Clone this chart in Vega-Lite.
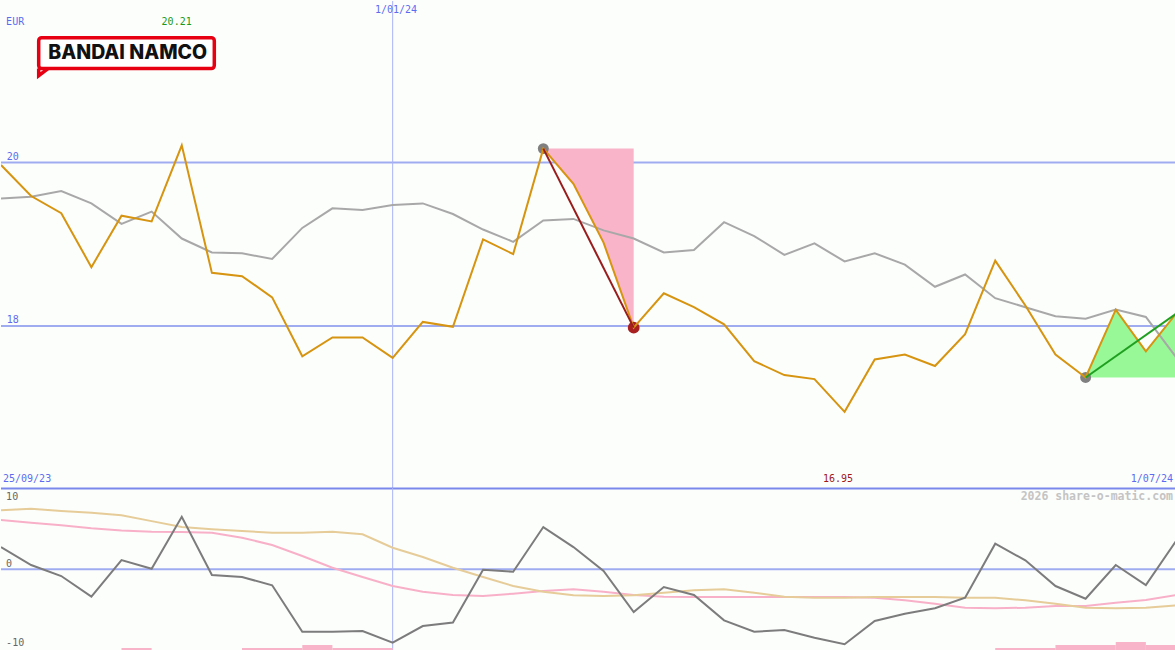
{
  "$schema": "https://vega.github.io/schema/vega-lite/v6.json",
  "background": "#fcfefc",
  "padding": 0,
  "spacing": 0,
  "bounds": "flush",
  "config": {"view": {"stroke": null}, "axis": {"disable": true}, "concat": {"spacing": 0}},
  "datasets": {
    "price": [
      {"idx": 0, "close": 19.97, "ma": 19.56}, {"idx": 1, "close": 19.59, "ma": 19.58},
      {"idx": 2, "close": 19.38, "ma": 19.65}, {"idx": 3, "close": 18.72, "ma": 19.50},
      {"idx": 4, "close": 19.35, "ma": 19.25}, {"idx": 5, "close": 19.28, "ma": 19.40},
      {"idx": 6, "close": 20.21, "ma": 19.07}, {"idx": 7, "close": 18.65, "ma": 18.90},
      {"idx": 8, "close": 18.61, "ma": 18.89}, {"idx": 9, "close": 18.35, "ma": 18.82},
      {"idx": 10, "close": 17.63, "ma": 19.20}, {"idx": 11, "close": 17.86, "ma": 19.44},
      {"idx": 12, "close": 17.86, "ma": 19.42}, {"idx": 13, "close": 17.61, "ma": 19.48},
      {"idx": 14, "close": 18.05, "ma": 19.50}, {"idx": 15, "close": 17.99, "ma": 19.37},
      {"idx": 16, "close": 19.06, "ma": 19.18}, {"idx": 17, "close": 18.88, "ma": 19.03},
      {"idx": 18, "close": 20.17, "ma": 19.29}, {"idx": 19, "close": 19.74, "ma": 19.31},
      {"idx": 20, "close": 19.02, "ma": 19.17}, {"idx": 21, "close": 17.98, "ma": 19.07},
      {"idx": 22, "close": 18.40, "ma": 18.90}, {"idx": 23, "close": 18.23, "ma": 18.93},
      {"idx": 24, "close": 18.02, "ma": 19.27}, {"idx": 25, "close": 17.57, "ma": 19.10},
      {"idx": 26, "close": 17.40, "ma": 18.87}, {"idx": 27, "close": 17.35, "ma": 19.01},
      {"idx": 28, "close": 16.95, "ma": 18.79}, {"idx": 29, "close": 17.59, "ma": 18.89},
      {"idx": 30, "close": 17.65, "ma": 18.75}, {"idx": 31, "close": 17.51, "ma": 18.48},
      {"idx": 32, "close": 17.90, "ma": 18.63}, {"idx": 33, "close": 18.80, "ma": 18.34},
      {"idx": 34, "close": 18.25, "ma": 18.23}, {"idx": 35, "close": 17.65, "ma": 18.12},
      {"idx": 36, "close": 17.37, "ma": 18.09}, {"idx": 37, "close": 18.20, "ma": 18.20},
      {"idx": 38, "close": 17.69, "ma": 18.11}, {"idx": 39, "close": 18.15, "ma": 17.62}
    ],
    "zones": [
      {"zone": "down", "idx": 18, "close": 20.17, "base": 20.17},
      {"zone": "down", "idx": 19, "close": 19.74, "base": 20.17},
      {"zone": "down", "idx": 20, "close": 19.02, "base": 20.17},
      {"zone": "down", "idx": 21, "close": 17.98, "base": 20.17},
      {"zone": "up", "idx": 36, "close": 17.37, "base": 17.37},
      {"zone": "up", "idx": 37, "close": 18.20, "base": 17.37},
      {"zone": "up", "idx": 38, "close": 17.69, "base": 17.37},
      {"zone": "up", "idx": 39, "close": 18.15, "base": 17.37}
    ],
    "trends": [
      {"seg": "down", "idx": 18, "v": 20.17}, {"seg": "down", "idx": 21, "v": 17.98},
      {"seg": "up", "idx": 36, "v": 17.37}, {"seg": "up", "idx": 39, "v": 18.15}
    ],
    "dots": [
      {"idx": 18, "v": 20.17, "c": "#808080", "s": 120},
      {"idx": 21, "v": 17.98, "c": "#a82020", "s": 140},
      {"idx": 36, "v": 17.37, "c": "#808080", "s": 120}
    ],
    "toplabels": [
      {"t": "EUR", "idx": 0.17, "v": 21.719, "c": "#5c6cf0", "a": "left"},
      {"t": "20.21", "idx": 5.83, "v": 21.719, "c": "#1a9a1a", "a": "center"},
      {"t": "1/01/24", "idx": 13.11, "v": 21.866, "c": "#5c6cf0", "a": "center"},
      {"t": "20", "idx": 0.19, "v": 20.068, "c": "#5c6cf0", "a": "left"},
      {"t": "18", "idx": 0.19, "v": 18.074, "c": "#5c6cf0", "a": "left"},
      {"t": "25/09/23", "idx": 0.066, "v": 16.129, "c": "#5c6cf0", "a": "left"},
      {"t": "16.95", "idx": 27.78, "v": 16.129, "c": "#a01818", "a": "center"},
      {"t": "1/07/24", "idx": 38.9, "v": 16.129, "c": "#5c6cf0", "a": "right"}
    ],
    "logo": [
      {"x1": 1.251, "x2": 7.080, "y1": 21.527, "y2": 21.149}
    ],
    "logotail": [
      {"o": 0, "idx": 1.251, "v": 21.149},
      {"o": 1, "idx": 1.251, "v": 21.062},
      {"o": 2, "idx": 1.56, "v": 21.149}
    ],
    "osc": [
      {"idx": 0, "osc": 3.05, "tan": 8.08, "pink": 6.75},
      {"idx": 1, "osc": 0.59, "tan": 8.30, "pink": 6.38},
      {"idx": 2, "osc": -0.92, "tan": 7.99, "pink": 6.03},
      {"idx": 3, "osc": -3.75, "tan": 7.75, "pink": 5.62},
      {"idx": 4, "osc": 1.27, "tan": 7.40, "pink": 5.33},
      {"idx": 5, "osc": 0.08, "tan": 6.60, "pink": 5.15},
      {"idx": 6, "osc": 7.20, "tan": 5.80, "pink": 5.11},
      {"idx": 7, "osc": -0.78, "tan": 5.48, "pink": 5.01},
      {"idx": 8, "osc": -1.05, "tan": 5.25, "pink": 4.33},
      {"idx": 9, "osc": -2.19, "tan": 5.01, "pink": 3.33},
      {"idx": 10, "osc": -8.55, "tan": 5.01, "pink": 1.82},
      {"idx": 11, "osc": -8.55, "tan": 5.15, "pink": 0.22},
      {"idx": 12, "osc": -8.45, "tan": 4.79, "pink": -1.05},
      {"idx": 13, "osc": -10.05, "tan": 2.95, "pink": -2.29},
      {"idx": 14, "osc": -7.77, "tan": 1.68, "pink": -3.07},
      {"idx": 15, "osc": -7.30, "tan": 0.22, "pink": -3.52},
      {"idx": 16, "osc": -0.05, "tan": -1.05, "pink": -3.66},
      {"idx": 17, "osc": -0.33, "tan": -2.29, "pink": -3.34},
      {"idx": 18, "osc": 5.79, "tan": -3.07, "pink": -2.97},
      {"idx": 19, "osc": 3.05, "tan": -3.56, "pink": -2.74},
      {"idx": 20, "osc": -0.23, "tan": -3.66, "pink": -3.07},
      {"idx": 21, "osc": -5.85, "tan": -3.56, "pink": -3.52},
      {"idx": 22, "osc": -2.42, "tan": -3.20, "pink": -3.75},
      {"idx": 23, "osc": -3.52, "tan": -2.88, "pink": -3.79},
      {"idx": 24, "osc": -6.99, "tan": -2.74, "pink": -3.79},
      {"idx": 25, "osc": -8.55, "tan": -3.20, "pink": -3.79},
      {"idx": 26, "osc": -8.32, "tan": -3.75, "pink": -3.79},
      {"idx": 27, "osc": -9.37, "tan": -3.89, "pink": -3.79},
      {"idx": 28, "osc": -10.27, "tan": -3.89, "pink": -3.79},
      {"idx": 29, "osc": -7.08, "tan": -3.79, "pink": -3.89},
      {"idx": 30, "osc": -6.08, "tan": -3.79, "pink": -4.25},
      {"idx": 31, "osc": -5.34, "tan": -3.79, "pink": -4.71},
      {"idx": 32, "osc": -3.89, "tan": -3.89, "pink": -5.26},
      {"idx": 33, "osc": 3.51, "tan": -3.89, "pink": -5.34},
      {"idx": 34, "osc": 1.23, "tan": -4.25, "pink": -5.26},
      {"idx": 35, "osc": -2.29, "tan": -4.71, "pink": -5.03},
      {"idx": 36, "osc": -4.03, "tan": -5.26, "pink": -5.03},
      {"idx": 37, "osc": 0.59, "tan": -5.34, "pink": -4.57},
      {"idx": 38, "osc": -2.15, "tan": -5.26, "pink": -4.21},
      {"idx": 39, "osc": 3.88, "tan": -4.93, "pink": -3.52}
    ],
    "bars": [
      {"i1": 4, "i2": 5, "h": -10.78}, {"i1": 8, "i2": 10, "h": -10.78},
      {"i1": 10, "i2": 11, "h": -10.37}, {"i1": 11, "i2": 13, "h": -10.78},
      {"i1": 33, "i2": 35, "h": -10.78}, {"i1": 35, "i2": 37, "h": -10.37},
      {"i1": 37, "i2": 38, "h": -9.96}, {"i1": 38, "i2": 39, "h": -10.37}
    ],
    "lowlabels": [
      {"t": "10", "idx": 0.17, "v": 9.91, "c": "#666666"},
      {"t": "0", "idx": 0.17, "v": 0.73, "c": "#666666"},
      {"t": "-10", "idx": 0.17, "v": -10.09, "c": "#666666"}
    ]
  },
  "vconcat": [
    {
      "width": 1175,
      "height": 487,
      "layer": [
        {
          "data": {"values": [{"g": 20}, {"g": 18}]},
          "mark": {"type": "rule", "color": "#a0acf0", "strokeWidth": 2},
          "encoding": {"y": {"field": "g", "type": "quantitative", "scale": {"domain": [16.018, 21.976], "nice": false, "zero": false}}}
        },
        {
          "data": {"values": [{"d": 13}]},
          "mark": {"type": "rule", "color": "#aab4f8", "strokeWidth": 1},
          "encoding": {"x": {"field": "d", "type": "quantitative", "scale": {"domain": [0, 39], "nice": false, "zero": false}}}
        },
        {
          "data": {"name": "zones"},
          "transform": [{"filter": "datum.zone === 'down'"}],
          "mark": {"type": "area", "color": "#f9b4c9", "opacity": 1},
          "encoding": {
            "x": {"field": "idx", "type": "quantitative", "scale": {"domain": [0, 39], "nice": false, "zero": false}},
            "y": {"field": "close", "type": "quantitative", "scale": {"domain": [16.018, 21.976], "nice": false, "zero": false}},
            "y2": {"field": "base"}
          }
        },
        {
          "data": {"name": "zones"},
          "transform": [{"filter": "datum.zone === 'up'"}],
          "mark": {"type": "area", "color": "#98f898", "opacity": 1},
          "encoding": {
            "x": {"field": "idx", "type": "quantitative", "scale": {"domain": [0, 39], "nice": false, "zero": false}},
            "y": {"field": "close", "type": "quantitative", "scale": {"domain": [16.018, 21.976], "nice": false, "zero": false}},
            "y2": {"field": "base"}
          }
        },
        {
          "data": {"name": "dots"},
          "mark": {"type": "point", "filled": true, "opacity": 1, "shape": "circle"},
          "encoding": {
            "x": {"field": "idx", "type": "quantitative", "scale": {"domain": [0, 39], "nice": false, "zero": false}},
            "y": {"field": "v", "type": "quantitative", "scale": {"domain": [16.018, 21.976], "nice": false, "zero": false}},
            "color": {"field": "c", "type": "nominal", "scale": null},
            "size": {"field": "s", "type": "quantitative", "scale": null}
          }
        },
        {
          "data": {"name": "price"},
          "mark": {"type": "line", "color": "#a8a8a8", "strokeWidth": 2, "clip": true},
          "encoding": {
            "x": {"field": "idx", "type": "quantitative", "scale": {"domain": [0, 39], "nice": false, "zero": false}},
            "y": {"field": "ma", "type": "quantitative", "scale": {"domain": [16.018, 21.976], "nice": false, "zero": false}}
          }
        },
        {
          "data": {"name": "price"},
          "mark": {"type": "line", "color": "#d69410", "strokeWidth": 2, "clip": true},
          "encoding": {
            "x": {"field": "idx", "type": "quantitative", "scale": {"domain": [0, 39], "nice": false, "zero": false}},
            "y": {"field": "close", "type": "quantitative", "scale": {"domain": [16.018, 21.976], "nice": false, "zero": false}}
          }
        },
        {
          "data": {"name": "trends"},
          "mark": {"type": "line", "strokeWidth": 2, "clip": true},
          "encoding": {
            "x": {"field": "idx", "type": "quantitative", "scale": {"domain": [0, 39], "nice": false, "zero": false}},
            "y": {"field": "v", "type": "quantitative", "scale": {"domain": [16.018, 21.976], "nice": false, "zero": false}},
            "color": {"field": "seg", "type": "nominal", "scale": {"domain": ["down", "up"], "range": ["#9a1c1c", "#20a020"]}, "legend": null}
          }
        },
        {
          "data": {"name": "logo"},
          "mark": {"type": "rect", "fill": "#ffffff", "stroke": "#e60012", "strokeWidth": 3.5, "cornerRadius": 3},
          "encoding": {
            "x": {"field": "x1", "type": "quantitative", "scale": {"domain": [0, 39], "nice": false, "zero": false}},
            "x2": {"field": "x2"},
            "y": {"field": "y1", "type": "quantitative", "scale": {"domain": [16.018, 21.976], "nice": false, "zero": false}},
            "y2": {"field": "y2"}
          }
        },
        {
          "data": {"name": "logotail"},
          "mark": {"type": "line", "color": "#e60012", "strokeWidth": 3.5, "strokeJoin": "miter"},
          "encoding": {
            "x": {"field": "idx", "type": "quantitative", "scale": {"domain": [0, 39], "nice": false, "zero": false}},
            "y": {"field": "v", "type": "quantitative", "scale": {"domain": [16.018, 21.976], "nice": false, "zero": false}},
            "order": {"field": "o"}
          }
        },
        {
          "data": {"values": [{"t": "BANDAI NAMCO", "idx": 4.205, "v": 21.337}]},
          "mark": {"type": "text", "font": "Inter", "fontWeight": 800, "fontSize": 19.5, "color": "#111111", "align": "center", "baseline": "middle"},
          "encoding": {
            "x": {"field": "idx", "type": "quantitative", "scale": {"domain": [0, 39], "nice": false, "zero": false}},
            "y": {"field": "v", "type": "quantitative", "scale": {"domain": [16.018, 21.976], "nice": false, "zero": false}},
            "text": {"field": "t"}
          }
        },
        {
          "data": {"name": "toplabels"},
          "transform": [{"filter": "datum.a === 'left'"}],
          "mark": {"type": "text", "font": "DejaVu Sans Mono", "fontSize": 10, "baseline": "middle", "align": "left"},
          "encoding": {
            "x": {"field": "idx", "type": "quantitative", "scale": {"domain": [0, 39], "nice": false, "zero": false}},
            "y": {"field": "v", "type": "quantitative", "scale": {"domain": [16.018, 21.976], "nice": false, "zero": false}},
            "text": {"field": "t"},
            "color": {"field": "c", "type": "nominal", "scale": null}
          }
        },
        {
          "data": {"name": "toplabels"},
          "transform": [{"filter": "datum.a === 'center'"}],
          "mark": {"type": "text", "font": "DejaVu Sans Mono", "fontSize": 10, "baseline": "middle", "align": "center"},
          "encoding": {
            "x": {"field": "idx", "type": "quantitative", "scale": {"domain": [0, 39], "nice": false, "zero": false}},
            "y": {"field": "v", "type": "quantitative", "scale": {"domain": [16.018, 21.976], "nice": false, "zero": false}},
            "text": {"field": "t"},
            "color": {"field": "c", "type": "nominal", "scale": null}
          }
        },
        {
          "data": {"name": "toplabels"},
          "transform": [{"filter": "datum.a === 'right'"}],
          "mark": {"type": "text", "font": "DejaVu Sans Mono", "fontSize": 10, "baseline": "middle", "align": "right"},
          "encoding": {
            "x": {"field": "idx", "type": "quantitative", "scale": {"domain": [0, 39], "nice": false, "zero": false}},
            "y": {"field": "v", "type": "quantitative", "scale": {"domain": [16.018, 21.976], "nice": false, "zero": false}},
            "text": {"field": "t"},
            "color": {"field": "c", "type": "nominal", "scale": null}
          }
        }
      ]
    },
    {
      "width": 1175,
      "height": 163,
      "layer": [
        {
          "data": {"values": [{"g": 0}]},
          "mark": {"type": "rule", "color": "#a0acf0", "strokeWidth": 2},
          "encoding": {"y": {"field": "g", "type": "quantitative", "scale": {"domain": [-11.19, 11.14], "nice": false, "zero": false}}}
        },
        {
          "data": {"values": [{"g": 11.07}]},
          "mark": {"type": "rule", "color": "#7a88ec", "strokeWidth": 2},
          "encoding": {"y": {"field": "g", "type": "quantitative", "scale": {"domain": [-11.19, 11.14], "nice": false, "zero": false}}}
        },
        {
          "data": {"values": [{"d": 13}]},
          "mark": {"type": "rule", "color": "#aab4f8", "strokeWidth": 1},
          "encoding": {"x": {"field": "d", "type": "quantitative", "scale": {"domain": [0, 39], "nice": false, "zero": false}}}
        },
        {
          "data": {"name": "bars"},
          "mark": {"type": "rect", "color": "#f8b4c8", "opacity": 1},
          "encoding": {
            "x": {"field": "i1", "type": "quantitative", "scale": {"domain": [0, 39], "nice": false, "zero": false}},
            "x2": {"field": "i2"},
            "y": {"field": "h", "type": "quantitative", "scale": {"domain": [-11.19, 11.14], "nice": false, "zero": false}},
            "y2": {"datum": -11.19}
          }
        },
        {
          "data": {"name": "osc"},
          "mark": {"type": "line", "color": "#f8b0c8", "strokeWidth": 2, "clip": true},
          "encoding": {
            "x": {"field": "idx", "type": "quantitative", "scale": {"domain": [0, 39], "nice": false, "zero": false}},
            "y": {"field": "pink", "type": "quantitative", "scale": {"domain": [-11.19, 11.14], "nice": false, "zero": false}}
          }
        },
        {
          "data": {"name": "osc"},
          "mark": {"type": "line", "color": "#e6cc98", "strokeWidth": 2, "clip": true},
          "encoding": {
            "x": {"field": "idx", "type": "quantitative", "scale": {"domain": [0, 39], "nice": false, "zero": false}},
            "y": {"field": "tan", "type": "quantitative", "scale": {"domain": [-11.19, 11.14], "nice": false, "zero": false}}
          }
        },
        {
          "data": {"name": "osc"},
          "mark": {"type": "line", "color": "#7c7c7c", "strokeWidth": 2, "clip": true},
          "encoding": {
            "x": {"field": "idx", "type": "quantitative", "scale": {"domain": [0, 39], "nice": false, "zero": false}},
            "y": {"field": "osc", "type": "quantitative", "scale": {"domain": [-11.19, 11.14], "nice": false, "zero": false}}
          }
        },
        {
          "data": {"name": "lowlabels"},
          "mark": {"type": "text", "font": "DejaVu Sans Mono", "fontSize": 10, "baseline": "middle", "align": "left"},
          "encoding": {
            "x": {"field": "idx", "type": "quantitative", "scale": {"domain": [0, 39], "nice": false, "zero": false}},
            "y": {"field": "v", "type": "quantitative", "scale": {"domain": [-11.19, 11.14], "nice": false, "zero": false}},
            "text": {"field": "t"},
            "color": {"field": "c", "type": "nominal", "scale": null}
          }
        },
        {
          "data": {"values": [{"t": "2026 share-o-matic.com", "idx": 38.9, "v": 9.91}]},
          "mark": {"type": "text", "font": "DejaVu Sans Mono", "fontSize": 11.5, "fontWeight": "bold", "color": "#c4c4c4", "align": "right", "baseline": "middle"},
          "encoding": {
            "x": {"field": "idx", "type": "quantitative", "scale": {"domain": [0, 39], "nice": false, "zero": false}},
            "y": {"field": "v", "type": "quantitative", "scale": {"domain": [-11.19, 11.14], "nice": false, "zero": false}},
            "text": {"field": "t"}
          }
        }
      ]
    }
  ]
}
